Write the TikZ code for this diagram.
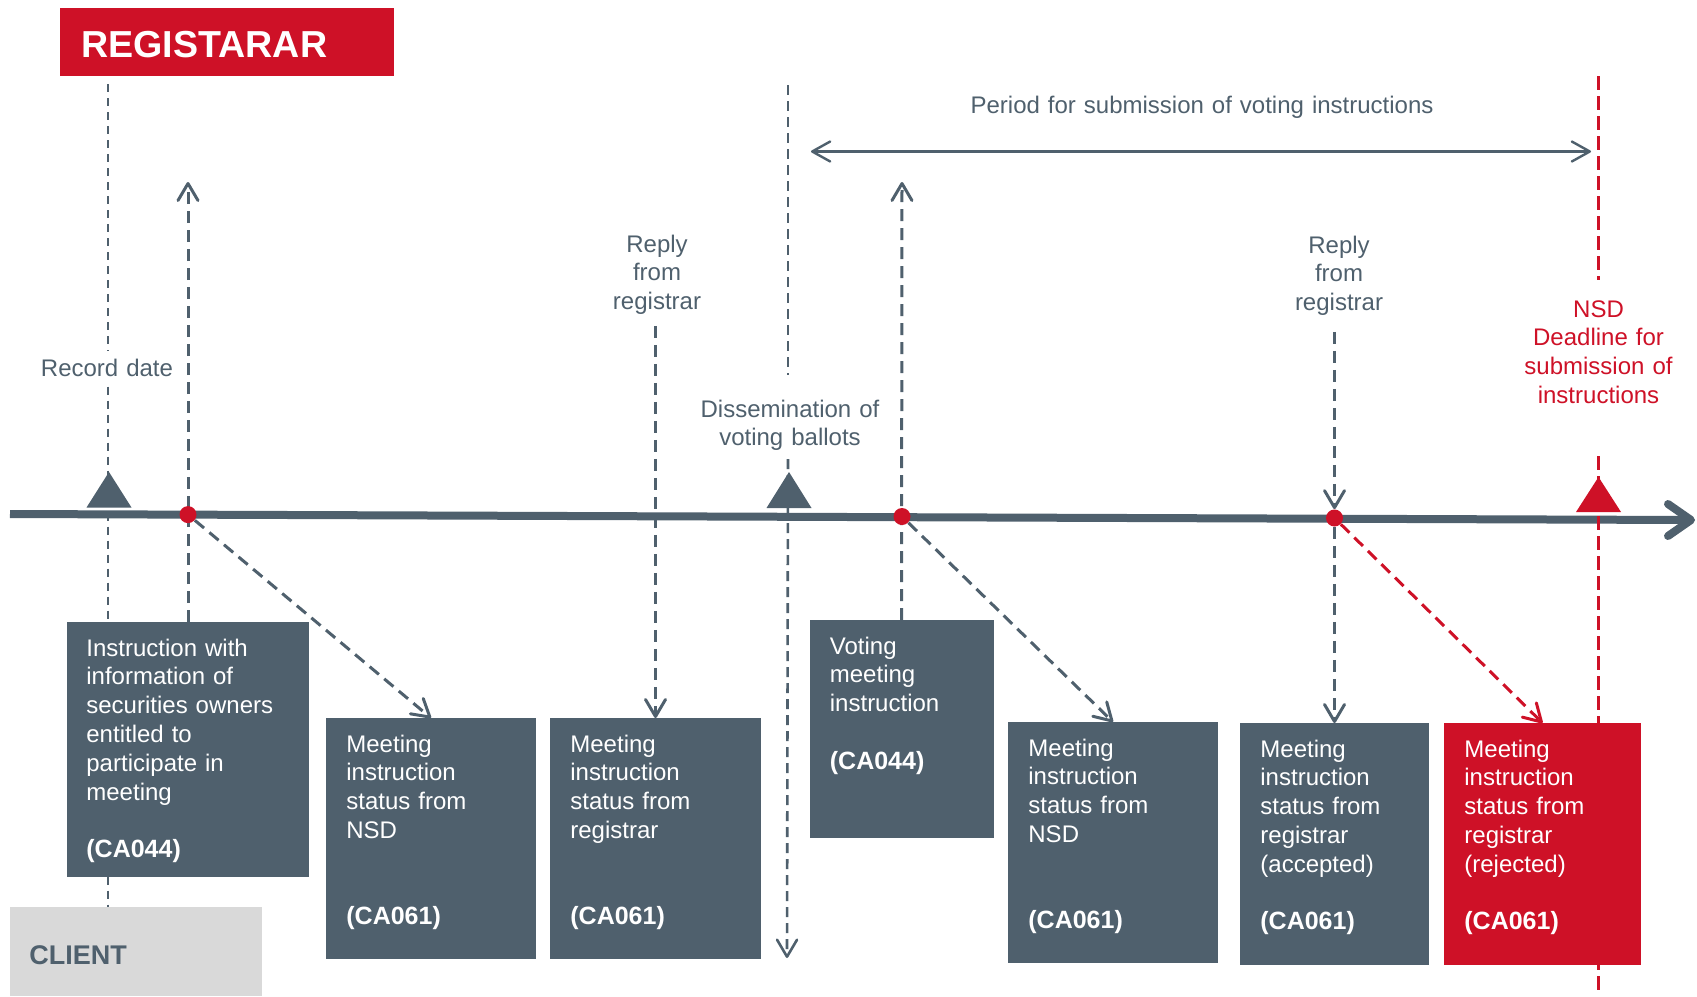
\documentclass[tikz,border=0pt]{standalone}
\usepackage{fontspec}
\setmainfont{Liberation Sans}
\usetikzlibrary{arrows.meta,calc}
\definecolor{slate}{HTML}{4F606D}
\definecolor{nsdred}{HTML}{CE1127}
\definecolor{clientbg}{HTML}{D9D9D9}
\newcommand{\codetxt}[1]{{\bfseries\fontsize{12.5}{14.4}\selectfont #1}}
\pgfdeclarelayer{tllayer}
\pgfdeclarelayer{dllayer}
\pgfsetlayers{tllayer,dllayer,main}
\begin{document}
\begin{tikzpicture}[x=0.5pt,y=-0.5pt,
  box/.style={fill=slate,draw=none,anchor=north west,inner sep=0pt,outer sep=0pt},
  redbox/.style={box,fill=nsdred},
  boxtext/.style={text=white,font=\fontsize{12}{14.4}\selectfont,anchor=base west,align=left,text width=105pt,inner sep=0pt},
  lbl/.style={text=slate,font=\fontsize{12}{14.4}\selectfont,anchor=base,align=center,text width=130pt,inner sep=0pt},
  openhead/.style={-{Straight Barb[length=8.5pt,width=10pt,round]}},
  dasharrow/.style={slate,line width=1.5pt,dash pattern=on 6pt off 3.5pt,openhead},
  reddasharrow/.style={dasharrow,nsdred},
  rdline/.style={slate,line width=1.1pt,dash pattern=on 4pt off 3pt},
  dline/.style={slate,line width=1.3pt,dash pattern=on 5pt off 3pt},
  redline/.style={nsdred,line width=1.2pt,dash pattern=on 7pt off 3pt},
  reddot/.style={circle,fill=nsdred,inner sep=0pt,minimum size=8.5pt,draw=none},
]
\useasboundingbox (0,0) rectangle (1697,996);

% header and client
\node[box,fill=nsdred,minimum width=167pt,minimum height=34pt] (reg) at (60,8) {};
\node[anchor=base west,inner sep=0pt,text=white,font=\bfseries\fontsize{18.8}{20}\selectfont] (regt) at (81,57) {REGISTARAR};
\node[box,fill=clientbg,minimum width=126pt,minimum height=44.5pt] (client) at (10,907) {};
\node[anchor=base west,inner sep=0pt,text=slate,font=\bfseries\fontsize{13.5}{14}\selectfont] (clientt) at (29,964) {CLIENT};

% timeline
\begin{pgfonlayer}{tllayer}
\coordinate (tlstart) at (10,514);
\coordinate (tlend) at (1689,520);
\coordinate (tltip) at (1691,520);
\coordinate (tlarmA) at (1668,504);
\coordinate (tlarmB) at (1668,536);
\draw[slate,line width=4pt] (tlstart) -- (tlend);
\draw[slate,line width=4pt,line cap=round,line join=round] (tlarmA) -- (tltip) -- (tlarmB);
\fill[slate] (86.5,507.5) -- (109,472) -- (131.5,507.5) -- cycle;
\fill[slate] (766.5,508) -- (789,472) -- (811.5,508) -- cycle;
\fill[nsdred] (1576,512) -- (1598.5,477) -- (1621,512) -- cycle;
\end{pgfonlayer}

% labels
\node[lbl] (rd) at (107,376) {Record date};
\node[lbl] (r1) at (657,252) {Reply\\from\\registrar};
\node[lbl] (r2) at (1339,253) {Reply\\from\\registrar};
\node[lbl] (dis) at (790,417) {Dissemination of\\voting ballots};
\node[lbl,text width=260pt] (per) at (1202,113) {Period for submission of voting instructions};
\node[lbl,text=nsdred] (nsd) at (1598.5,317) {NSD\\Deadline for\\submission of\\instructions};

% boxes
\node[box,minimum width=121pt,minimum height=127.5pt] (b1) at (67,622) {};
\node[box,minimum width=105pt,minimum height=120.5pt] (b2) at (326,718) {};
\node[box,minimum width=105.5pt,minimum height=120.5pt] (b3) at (550,718) {};
\node[box,minimum width=92pt,minimum height=109pt] (b4) at (809.5,620) {};
\node[box,minimum width=105pt,minimum height=120.5pt] (b5) at (1008,722) {};
\node[box,minimum width=94.5pt,minimum height=121pt] (b6) at (1240,723) {};
\node[redbox,minimum width=98.5pt,minimum height=121pt] (b7) at (1444,723) {};

\node[boxtext] (t1) at ($(b1.north west)+(19,34)$) {Instruction with\\information of\\securities owners\\entitled to\\participate in\\meeting\\[14.4pt]\codetxt{(CA044)}};
\node[boxtext] (t2) at ($(b2.north west)+(20,34)$) {Meeting\\instruction\\status from\\NSD\\[28.8pt]\codetxt{(CA061)}};
\node[boxtext] (t3) at ($(b3.north west)+(20,34)$) {Meeting\\instruction\\status from\\registrar\\[28.8pt]\codetxt{(CA061)}};
\node[boxtext] (t4) at ($(b4.north west)+(20,34)$) {Voting\\meeting\\instruction\\[14.4pt]\codetxt{(CA044)}};
\node[boxtext] (t5) at ($(b5.north west)+(20,34)$) {Meeting\\instruction\\status from\\NSD\\[28.8pt]\codetxt{(CA061)}};
\node[boxtext] (t6) at ($(b6.north west)+(20,34)$) {Meeting\\instruction\\status from\\registrar\\(accepted)\\[14.4pt]\codetxt{(CA061)}};
\node[boxtext] (t7) at ($(b7.north west)+(20,34)$) {Meeting\\instruction\\status from\\registrar\\(rejected)\\[14.4pt]\codetxt{(CA061)}};

% dots
\node[reddot] (dot1) at (188,514.6) {};
\node[reddot] (dot2) at (902,516.5) {};
\node[reddot] (dot3) at (1334.5,518) {};

% dashed connectors
\begin{pgfonlayer}{dllayer}
\coordinate (rdtop) at (108,84);
\draw[rdline] (rdtop) -- ($(rdtop |- rd.north)+(0,-7)$);
\draw[rdline] ($(rdtop |- rd.south)+(0,10)$) -- (rdtop |- client.north);
\coordinate (up1) at (188,182);
\draw[dasharrow] (b1.north) -- (up1);
\draw[dasharrow] (dot1) -- (b2.north);
\draw[dasharrow] ($(b3.north |- r1.south)+(0,11)$) -- (b3.north);
\coordinate (dtop) at (788,85);
\coordinate (ddown) at (787,958);
\draw[dline] (dtop) -- ($(dtop |- dis.north)+(0,-24)$);
\draw[dline,openhead] ($(dtop |- dis.south)+(0,8)$) -- (ddown);
\coordinate (up2) at (902,182);
\draw[dasharrow] (b4.north) -- (up2);
\draw[dasharrow] (dot2) -- (b5.north);
\draw[dasharrow] ($(b6.north |- r2.south)+(0,16)$) -- (dot3);
\draw[dasharrow] (dot3) -- (b6.north);
\draw[reddasharrow] (dot3) -- (b7.north);
\coordinate (rtop) at (1598.5,76);
\coordinate (rbottom) at (1598.5,996);
\draw[redline] (rtop) -- ($(rtop |- nsd.north)+(0,-20)$);
\draw[redline] ($(rtop |- nsd.south)+(0,52)$) -- (rbottom);
\coordinate (pl) at (811,151.5);
\coordinate (pr) at (1591,151.5);
\draw[slate,line width=1.2pt,{Straight Barb[length=9pt,width=10pt,round]}-{Straight Barb[length=9pt,width=10pt,round]}] (pl) -- (pr);
\end{pgfonlayer}
\end{tikzpicture}
\end{document}
